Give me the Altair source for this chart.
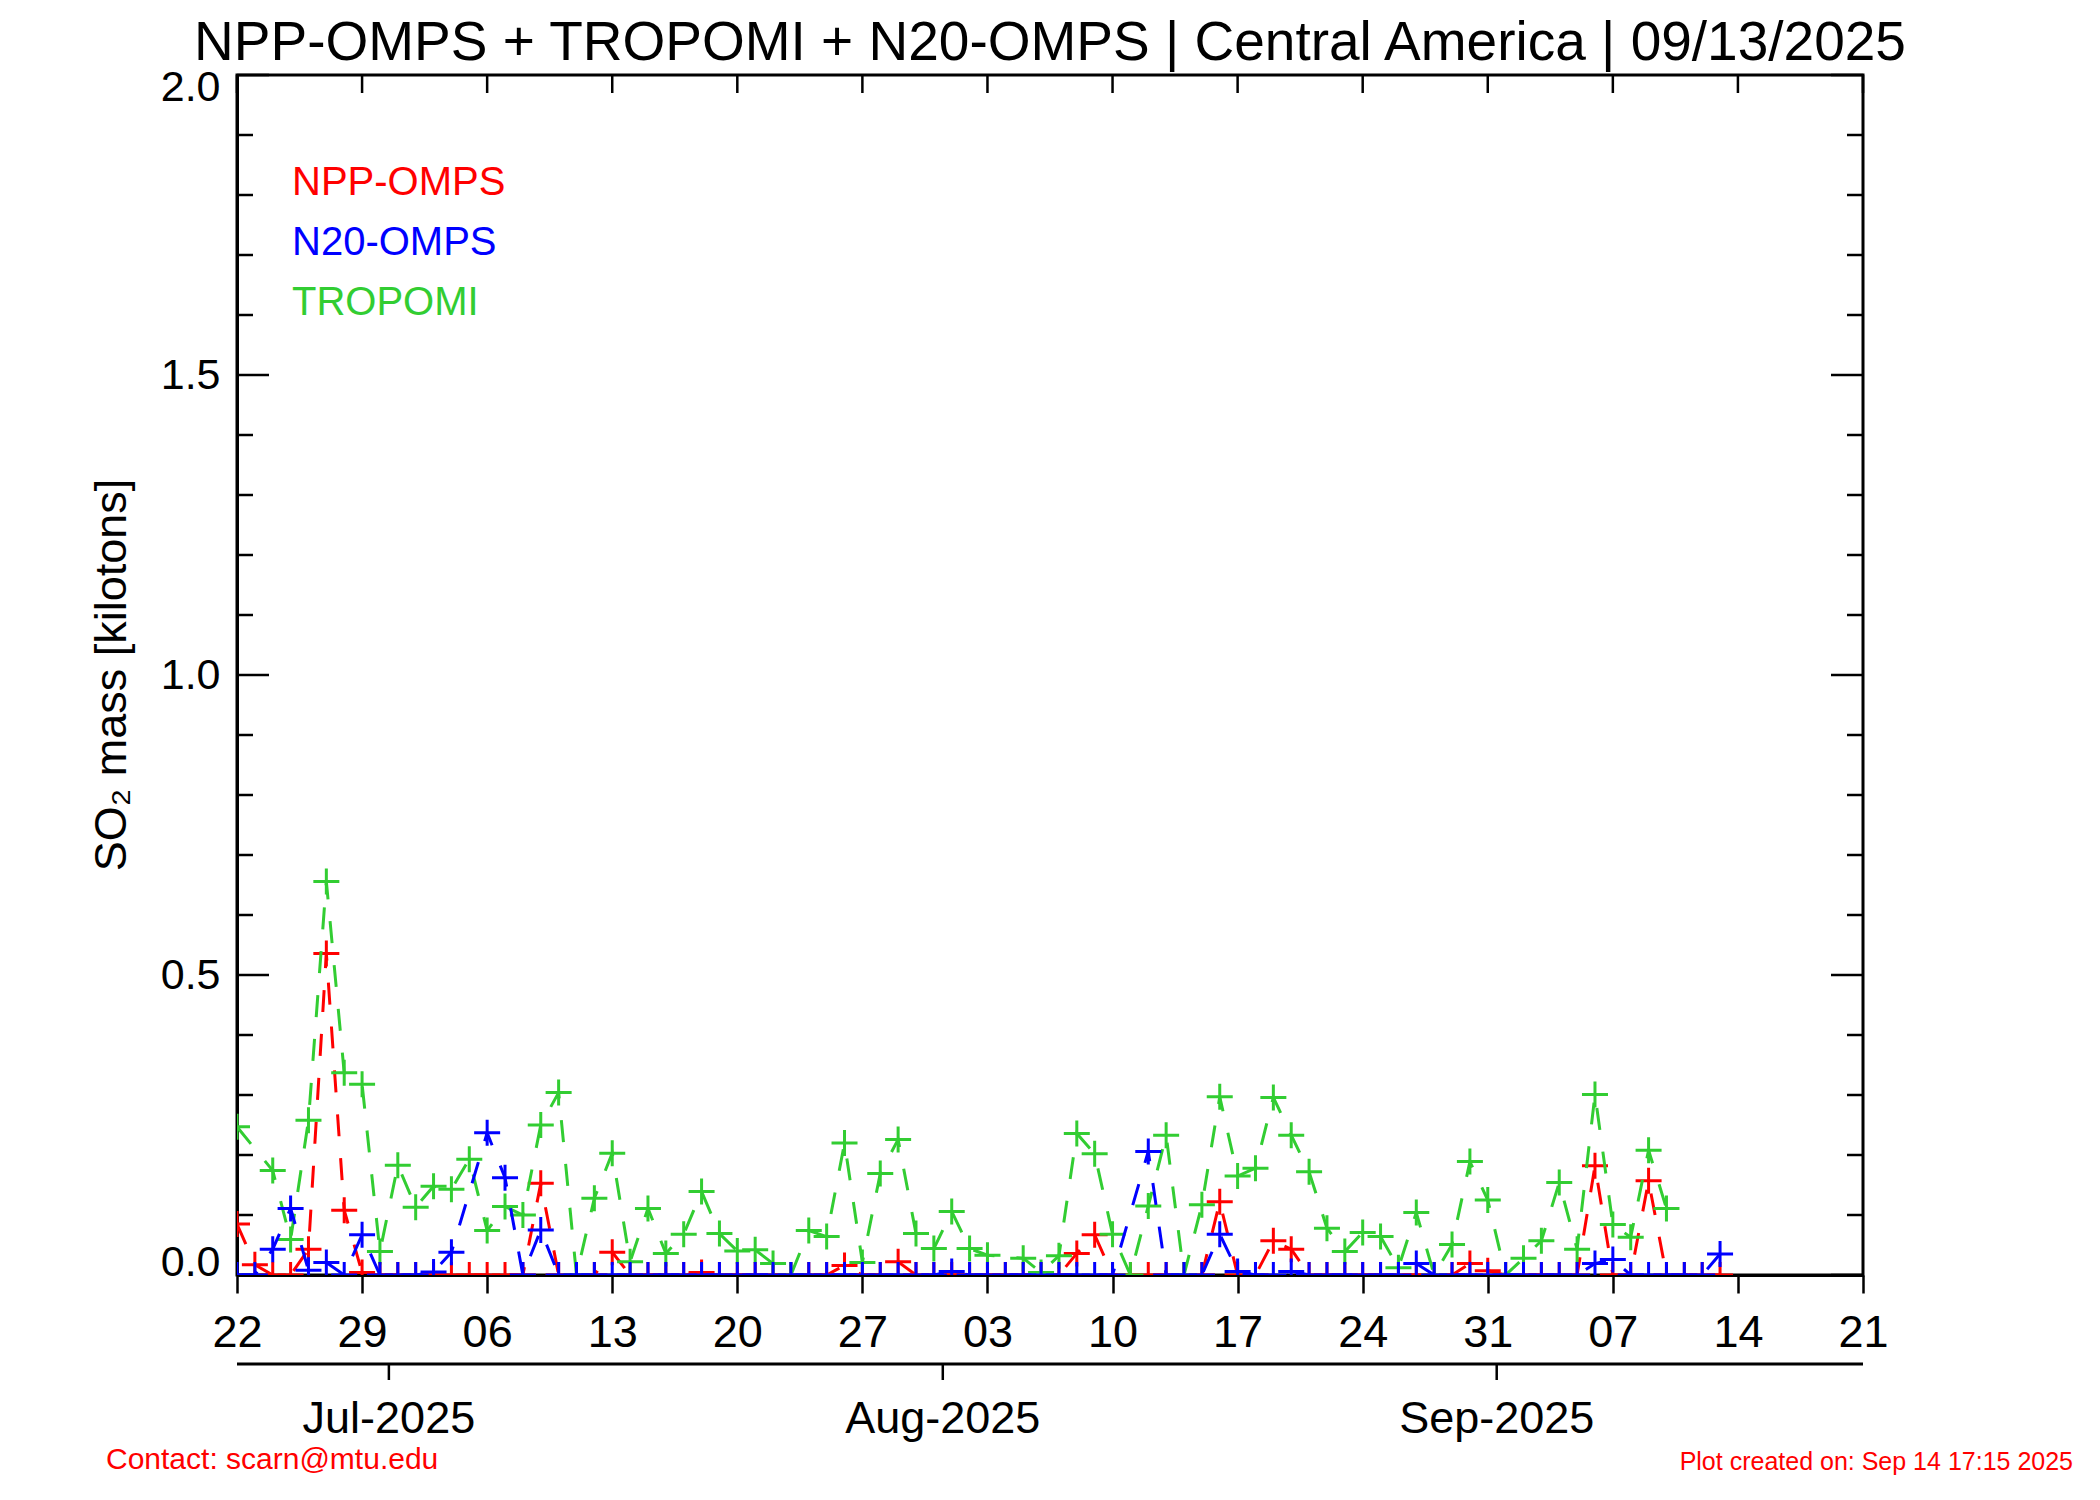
import altair as alt
import pandas as pd

W, H = 1626, 1200
FONT = "Liberation Sans, Arial, Helvetica, DejaVu Sans, sans-serif"

# Daily SO2 mass (kilotons), starting 2025-06-22 (index = days since start); None = no data
NPP_OMPS = [0.085, 0.017, 0.0, 0.0, 0.043, 0.536, 0.108, 0.004, 0.0, 0.0,
            0.0, 0.0, 0.0, 0.0, 0.0, 0.0, 0.0, 0.153, 0.0, 0.0,
            0.0, 0.038, 0.0, 0.0, 0.0, 0.0, 0.004, 0.0, 0.0, 0.0,
            0.0, 0.0, 0.0, 0.0, 0.016, 0.0, 0.0, 0.022, 0.0, 0.0,
            0.0, 0.0, 0.0, 0.0, 0.0, 0.0, 0.0, 0.036, 0.067, 0.0,
            0.0, 0.0, 0.0, 0.0, 0.0, 0.122, 0.0, 0.0, 0.057, 0.043,
            0.0, 0.0, 0.0, 0.0, 0.0, 0.0, 0.0, 0.0, 0.0, 0.019,
            0.007, 0.0, 0.0, 0.0, 0.0, 0.0, 0.182, 0.0, 0.0, 0.157,
            0.0, 0.0, 0.0, 0.0]
N20_OMPS = [0.0, 0.0, 0.043, 0.111, 0.008, 0.021, 0.0, 0.067, 0.0, 0.0,
            0.0, 0.005, 0.038, None, 0.237, 0.162, 0.0, 0.075, 0.0, 0.0,
            0.0, 0.0, 0.0, 0.0, 0.0, 0.0, 0.0, 0.0, 0.0, 0.0,
            0.0, 0.0, 0.0, 0.0, 0.0, 0.0, 0.0, 0.0, 0.0, 0.0,
            0.006, 0.0, 0.0, 0.0, 0.0, 0.0, 0.0, 0.0, 0.0, 0.0,
            None, 0.206, 0.0, 0.0, 0.0, 0.068, 0.006, 0.0, 0.0, 0.006,
            0.0, 0.0, 0.0, 0.0, 0.0, 0.0, 0.019, 0.0, 0.0, 0.0,
            0.0, 0.0, 0.0, 0.0, 0.0, 0.0, 0.019, 0.026, 0.0, 0.0,
            0.0, 0.0, 0.0, 0.035]
TROPOMI = [0.247, None, 0.174, 0.059, 0.258, 0.656, 0.337, 0.318, 0.039, 0.183,
           0.113, 0.148, 0.143, 0.193, 0.074, 0.114, 0.100, 0.250, 0.304, 0.0,
           0.128, 0.203, 0.022, 0.111, 0.036, 0.068, 0.139, 0.069, 0.040, 0.042,
           0.019, 0.0, 0.074, 0.064, 0.220, 0.021, 0.169, 0.226, 0.069, 0.044,
           0.106, 0.044, 0.033, None, 0.028, 0.004, 0.032, 0.236, 0.202, 0.068,
           0.0, 0.115, 0.233, 0.0, 0.117, 0.297, 0.165, 0.178, 0.296, 0.233,
           0.172, 0.078, 0.039, 0.071, 0.064, 0.012, 0.104, 0.0, 0.051, 0.189,
           0.125, 0.0, 0.028, 0.057, 0.154, 0.043, 0.301, 0.084, 0.063, 0.208,
           0.111, None, None, None]

DAY_TICKS = list(range(0, 92, 7))
DAY_LABELS = ["22", "29", "06", "13", "20", "27", "03", "10", "17", "24", "31", "07", "14", "21"]
MONTH_TICKS = [8.5, 39.5, 70.5]
MONTH_LABELS = ["Jul-2025", "Aug-2025", "Sep-2025"]
Y_MAJOR = [0.0, 0.5, 1.0, 1.5, 2.0]
Y_MINOR = [0.1, 0.2, 0.3, 0.4, 0.6, 0.7, 0.8, 0.9, 1.1, 1.2, 1.3, 1.4, 1.6, 1.7, 1.8, 1.9]

TITLE = "NPP-OMPS + TROPOMI + N20-OMPS | Central America | 09/13/2025"
YTITLE = "SO\u2082 mass [kilotons]"
CONTACT = "Contact: scarn@mtu.edu"
CREATED = "Plot created on: Sep 14 17:15 2025"

RED, BLUE, GREEN = "#ff0000", "#0000ff", "#32cd32"
PLUS = "M-1,0L1,0M0,-1L0,1"


def series_df(vals):
    days = [i for i, v in enumerate(vals) if v is not None]
    return pd.DataFrame({"day": days, "v": [vals[i] for i in days]})


label_expr = "[" + ",".join("'%s'" % s for s in DAY_LABELS) + "][round(datum.value / 7)]"

x_enc = alt.X(
    "day:Q",
    scale=alt.Scale(domain=[0, 91], nice=False, zero=False),
    axis=alt.Axis(values=DAY_TICKS, labelExpr=label_expr, tickSize=18, tickWidth=2.5,
                  tickColor="black", domainColor="black", domainWidth=3,
                  labelFont=FONT, labelFontSize=45, labelColor="black",
                  labelPadding=53, labelBaseline="alphabetic", labelOverlap=False,
                  labelFlush=False, grid=False, title=None),
)
y_enc = alt.Y(
    "v:Q",
    scale=alt.Scale(domain=[0, 2], nice=False, zero=False),
    axis=alt.Axis(values=Y_MAJOR, format=".1f", ticks=False, domainColor="black",
                  domainWidth=3, labelFont=FONT, labelFontSize=43, labelColor="black",
                  labelPadding=17, labelFlush=True, labelFlushOffset=9,
                  labelOverlap=False, grid=False, title=None),
)

layers = []

# inward tick marks on left/right/top
maj = pd.DataFrame({"v": Y_MAJOR})
mino = pd.DataFrame({"v": Y_MINOR})
layers.append(alt.Chart(maj).mark_rule(color="black", strokeWidth=2.5).encode(y=y_enc, x=alt.value(0), x2=alt.value(32)))
layers.append(alt.Chart(mino).mark_rule(color="black", strokeWidth=2.5).encode(y=y_enc, x=alt.value(0), x2=alt.value(16)))
layers.append(alt.Chart(maj).mark_rule(color="black", strokeWidth=2.5).encode(y=y_enc, x=alt.value(W), x2=alt.value(W - 32)))
layers.append(alt.Chart(mino).mark_rule(color="black", strokeWidth=2.5).encode(y=y_enc, x=alt.value(W), x2=alt.value(W - 16)))
layers.append(alt.Chart(pd.DataFrame({"day": DAY_TICKS})).mark_rule(color="black", strokeWidth=2.5)
              .encode(x=x_enc, y=alt.value(0), y2=alt.value(18)))

# month axis below
layers.append(alt.Chart(pd.DataFrame({"k": [0]})).mark_rule(color="black", strokeWidth=3)
              .encode(x=alt.value(0), x2=alt.value(W), y=alt.value(H + 89)))
mdf = pd.DataFrame({"day": MONTH_TICKS, "lab": MONTH_LABELS})
layers.append(alt.Chart(mdf).mark_rule(color="black", strokeWidth=2.5)
              .encode(x=x_enc, y=alt.value(H + 89), y2=alt.value(H + 105)))
layers.append(alt.Chart(mdf).mark_text(font=FONT, fontSize=45, color="black", align="center",
                                        baseline="alphabetic")
              .encode(x=x_enc, y=alt.value(H + 158), text="lab:N"))

# data series
for vals, col in [(NPP_OMPS, RED), (TROPOMI, GREEN), (N20_OMPS, BLUE)]:
    d = series_df(vals)
    layers.append(alt.Chart(d).mark_line(color=col, strokeWidth=3, strokeDash=[22, 22], clip=True)
                  .encode(x=x_enc, y=y_enc))
    layers.append(alt.Chart(d).mark_point(shape=PLUS, size=676, filled=False, strokeWidth=3,
                                          opacity=1, color=col, clip=True)
                  .encode(x=x_enc, y=y_enc))

# legend texts
for i, (name, col) in enumerate([("NPP-OMPS", RED), ("N20-OMPS", BLUE), ("TROPOMI", GREEN)]):
    layers.append(alt.Chart(pd.DataFrame({"t": [name]})).mark_text(
        font=FONT, fontSize=40, color=col, align="left", baseline="alphabetic")
        .encode(x=alt.value(55), y=alt.value(120 + 60 * i), text="t:N"))

# titles and footers
layers.append(alt.Chart(pd.DataFrame({"t": [TITLE]})).mark_text(
    font=FONT, fontSize=55, color="black", align="center", baseline="alphabetic")
    .encode(x=alt.value(W / 2), y=alt.value(-15), text="t:N"))
layers.append(alt.Chart(pd.DataFrame({"t": [YTITLE]})).mark_text(
    font=FONT, fontSize=45, color="black", align="center", baseline="middle", angle=270)
    .encode(x=alt.value(-125), y=alt.value(H / 2), text="t:N"))
layers.append(alt.Chart(pd.DataFrame({"t": [CONTACT]})).mark_text(
    font=FONT, fontSize=30, color=RED, align="left", baseline="alphabetic")
    .encode(x=alt.value(-131), y=alt.value(H + 194), text="t:N"))
layers.append(alt.Chart(pd.DataFrame({"t": [CREATED]})).mark_text(
    font=FONT, fontSize=25, color=RED, align="right", baseline="alphabetic")
    .encode(x=alt.value(W + 210), y=alt.value(H + 195), text="t:N"))

chart = alt.layer(*layers).properties(
    width=W, height=H,
    autosize=alt.AutoSizeParams(type="none"),
    padding={"left": 229, "top": 67, "right": 220, "bottom": 210},
    background="white",
).configure_view(stroke="black", strokeWidth=3)

chart.save("out.html", embed_options={"renderer": "svg", "actions": False})
